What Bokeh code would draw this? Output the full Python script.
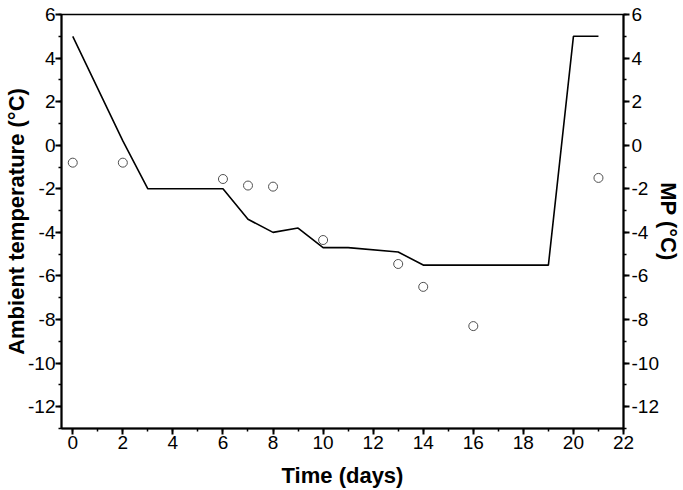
from bokeh.plotting import figure
from bokeh.models import LinearAxis, SingleIntervalTicker, Range1d, CustomJSTickFormatter
from bokeh.embed import file_html
from bokeh.resources import INLINE

# Ambient temperature (line)
ambient_days = [0, 2, 3, 6, 7, 8, 9, 10, 11, 13, 14, 19, 20, 21]
ambient_temp = [5.0, 0.2, -2.0, -2.0, -3.4, -4.0, -3.8, -4.7, -4.7, -4.9, -5.5, -5.5, 5.0, 5.0]

# MP (open circles)
mp_days = [0, 2, 6, 7, 8, 10, 13, 14, 16, 21]
mp_temp = [-0.8, -0.8, -1.55, -1.85, -1.9, -4.35, -5.45, -6.5, -8.3, -1.5]

FONT = "Liberation Sans"

p = figure(width=683, height=490, output_backend="svg", toolbar_location=None,
           x_range=Range1d(-0.45, 22), y_range=Range1d(-13, 6))
p.min_border_top = 14
p.min_border_left = 61
p.min_border_right = 59
p.min_border_bottom = 61
p.background_fill_color = "white"
p.border_fill_color = "white"
p.outline_line_color = "black"
p.outline_line_width = 1.5
p.xgrid.visible = False
p.ygrid.visible = False

p.line(ambient_days, ambient_temp, line_color="black", line_width=1.6)
p.scatter(mp_days, mp_temp, marker="circle", size=9, fill_color="white",
          line_color="#505050", line_width=1)

right = LinearAxis()
p.add_layout(right, "right")

for ax in [p.xaxis[0], p.yaxis[0], right]:
    ax.ticker = SingleIntervalTicker(interval=2, num_minor_ticks=2)
    ax.formatter = CustomJSTickFormatter(code="return tick.toFixed(0);")
    ax.axis_line_color = "black"
    ax.axis_line_width = 2
    ax.major_tick_line_color = "black"
    ax.major_tick_line_width = 2
    ax.major_tick_in = 0
    ax.major_tick_out = 6
    ax.minor_tick_line_color = "black"
    ax.minor_tick_line_width = 1.5
    ax.minor_tick_in = 0
    ax.minor_tick_out = 3
    ax.major_label_text_font = FONT
    ax.major_label_text_font_size = "19px"
    ax.major_label_text_color = "black"
    ax.major_label_standoff = 0
    ax.axis_label_text_font = FONT
    ax.axis_label_text_font_size = "22px"
    ax.axis_label_text_font_style = "bold"
    ax.axis_label_text_color = "black"

p.xaxis[0].major_label_standoff = 1
p.xaxis[0].axis_label_standoff = 11
p.yaxis[0].axis_label_standoff = -4
right.major_label_standoff = 2
right.axis_label_standoff = -6

p.xaxis[0].axis_label = "Time (days)"
p.yaxis[0].axis_label = "Ambient temperature (°C)"
right.axis_label = "MP (°C)"

open("out.html", "w").write(file_html(p, INLINE))
